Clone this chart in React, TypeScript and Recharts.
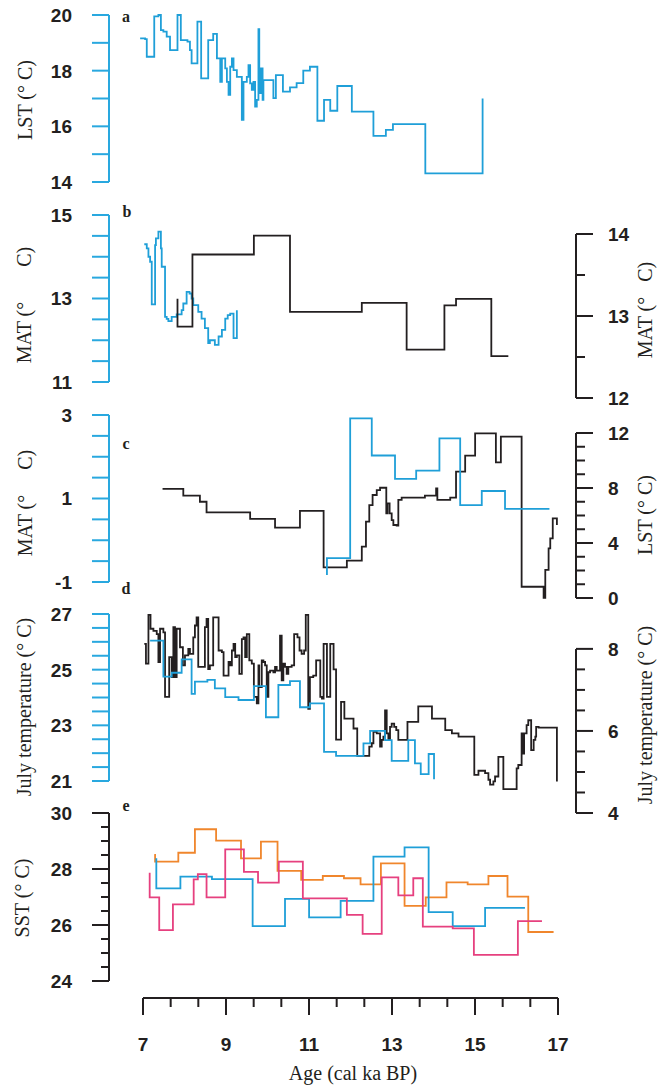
import React from 'react';
import { LineChart, Line, XAxis, YAxis, ReferenceLine } from 'recharts';

const W = 658;
const H = 1088;
const AXIS_BLUE = '#29a8df';
const INK = '#231f20';
const LINE_BLUE = '#1f9fd8';
const ORANGE = '#f0862c';
const PINK = '#e6407f';
const SANS = '"Liberation Sans", Arial, sans-serif';
const SERIF = '"Liberation Serif", "Times New Roman", serif';

// age (cal ka BP) range spanned by the plotting strip between the left and right axes
const AGE_DOMAIN: [number, number] = [6.18, 17.43];

// ---------- bottom age axis ----------
const ageTicks = [7, 7.667, 8.333, 9, 9.667, 10.333, 11, 11.667, 12.333, 13, 13.667, 14.333, 15, 15.667, 16.333, 17];
const ageLabels = [7, 9, 11, 13, 15, 17];

// ---------- panel a : LST (°C) ----------
const lstATicks = [14, 15, 16, 17, 18, 19, 20];
const lstALabels = [14, 16, 18, 20];
const lstA: [number, number][] = [
  [6.93, 19.16], [7.05, 19.13], [7.09, 18.5], [7.27, 19.95], [7.37, 20.0], [7.43, 19.46], [7.49, 19.4],
  [7.57, 19.22], [7.65, 18.74], [7.83, 20.0], [7.91, 19.1], [8.07, 19.04], [8.13, 18.74], [8.17, 18.26],
  [8.31, 19.76], [8.4, 17.72], [8.57, 19.1], [8.69, 19.32], [8.78, 18.44], [8.86, 17.6], [8.9, 18.44],
  [8.98, 18.08], [9.02, 17.6], [9.06, 17.13], [9.1, 18.14], [9.14, 18.44], [9.18, 18.02], [9.26, 17.78],
  [9.38, 16.23], [9.42, 17.6], [9.5, 17.78], [9.54, 18.2], [9.58, 17.54], [9.62, 17.31], [9.66, 17.6],
  [9.7, 16.71], [9.74, 16.95], [9.78, 19.49], [9.8, 17.19], [9.84, 18.08], [9.88, 16.95], [9.9, 17.66],
  [10.14, 17.01], [10.2, 17.84], [10.37, 17.25], [10.54, 17.4], [10.7, 17.55], [10.86, 18.0], [11.02, 18.14],
  [11.2, 16.2], [11.36, 16.95], [11.51, 16.56], [11.68, 17.45], [12.03, 16.53], [12.55, 15.66], [12.85, 15.87],
  [13.02, 16.08], [13.8, 14.31], [15.18, 14.31], [15.18, 17.0],
];

// ---------- panel b : MAT (°C), left blue / right black ----------
const matBLeftTicks = [11, 11.5, 12, 12.5, 13, 13.5, 14, 14.5, 15];
const matBLeftLabels = [11, 13, 15];
const matBRightTicks = [12, 12.5, 13, 13.5, 14];
const matBRightLabels = [12, 13, 14];
const matBBlue: [number, number][] = [
  [7.03, 14.3], [7.09, 14.2], [7.13, 14.0], [7.17, 13.88], [7.21, 12.86], [7.29, 14.28], [7.31, 14.44],
  [7.37, 14.6], [7.43, 14.2], [7.45, 13.76], [7.53, 12.56], [7.57, 12.51], [7.61, 12.46], [7.69, 12.56],
  [7.81, 12.62], [7.93, 12.72], [7.97, 12.88], [8.05, 13.16], [8.12, 13.12], [8.17, 13.0], [8.21, 12.84],
  [8.33, 12.68], [8.41, 12.52], [8.49, 12.29], [8.57, 11.93], [8.61, 12.0], [8.73, 11.89], [8.82, 12.09],
  [8.9, 12.25], [8.98, 12.52], [9.04, 12.6], [9.1, 12.64], [9.18, 12.05], [9.26, 12.72],
];
const matBBlack: [number, number][] = [
  [7.83, 13.21], [7.83, 12.87], [8.19, 13.75], [9.67, 13.98], [10.54, 13.05], [12.27, 13.16],
  [13.35, 12.59], [14.26, 13.13], [14.54, 13.21], [15.39, 12.51], [15.8, 12.51],
];

// ---------- panel c : MAT (°C) left blue / LST (°C) right black ----------
const matCTicks = [-1, -0.5, 0, 0.5, 1, 1.5, 2, 2.5, 3];
const matCLabels = [-1, 1, 3];
const lstCTicks = [0, 1, 2, 3, 4, 5, 6, 7, 8, 9, 10, 11, 12];
const lstCLabels = [0, 4, 8, 12];
const matCBlue: [number, number][] = [
  [11.43, -0.83], [11.43, -0.43], [11.99, 2.92], [12.51, 2.03], [13.07, 1.47], [13.58, 1.67],
  [14.14, 2.44], [14.64, 0.84], [15.16, 1.18], [15.72, 0.75], [16.79, 0.75],
];
const lstCBlack: [number, number][] = [
  [7.47, 7.93], [7.97, 7.44], [8.37, 7.0], [8.53, 6.23], [9.58, 5.75], [10.18, 5.12], [10.78, 6.33],
  [11.35, 2.23], [11.91, 2.72], [12.27, 3.73], [12.37, 5.55], [12.45, 6.76], [12.53, 7.49], [12.63, 7.85],
  [12.71, 8.02], [12.86, 6.16], [12.89, 6.88], [12.94, 6.16], [12.99, 5.67], [13.03, 5.31], [13.11, 5.26],
  [13.15, 7.13], [13.23, 7.3], [13.79, 7.44], [14.06, 7.98], [14.09, 7.13], [14.4, 7.3], [14.54, 9.19],
  [14.76, 10.35], [15.0, 11.98], [15.5, 9.87], [15.62, 11.73], [16.12, 0.82], [16.65, 0.02], [16.69, 2.04],
  [16.77, 3.61], [16.81, 4.34], [16.87, 5.79], [16.97, 5.31],
];

// ---------- panel d : July temperature (°C) left blue / right black ----------
const julDLeftTicks = [21, 21.5, 22, 22.5, 23, 23.5, 24, 24.5, 25, 25.5, 26, 26.5, 27];
const julDLeftLabels = [21, 23, 25, 27];
const julDRightTicks = [4, 4.5, 5, 5.5, 6, 6.5, 7, 7.5, 8];
const julDRightLabels = [4, 6, 8];
const julDBlue: [number, number][] = [
  [7.17, 26.04], [7.49, 24.75], [7.69, 24.89], [7.93, 25.37], [8.17, 24.13], [8.25, 24.57], [8.55, 24.63],
  [8.73, 24.33], [8.98, 24.01], [9.3, 23.91], [9.67, 24.41], [9.96, 23.29], [10.26, 24.45], [10.54, 24.59],
  [10.78, 23.65], [11.02, 23.79], [11.36, 22.05], [11.65, 21.9], [12.31, 22.35], [12.47, 22.8], [12.83, 22.47],
  [12.99, 21.72], [13.39, 22.47], [13.55, 21.63], [13.69, 21.25], [13.88, 21.97], [14.01, 21.06],
];
const julDBlack: [number, number][] = [
  [7.03, 8.12], [7.07, 7.64], [7.13, 8.83], [7.18, 8.49], [7.25, 8.44], [7.33, 8.36], [7.37, 7.68], [7.41, 8.49],
  [7.49, 8.4], [7.53, 6.83], [7.63, 7.8], [7.69, 7.31], [7.73, 8.53], [7.77, 7.31], [7.81, 8.49], [7.89, 8.04],
  [7.96, 7.6], [8.01, 7.84], [8.09, 8.0], [8.13, 7.88], [8.21, 8.28], [8.25, 8.57], [8.29, 8.77], [8.33, 7.56],
  [8.49, 8.53], [8.53, 8.73], [8.57, 7.51], [8.61, 7.6], [8.69, 8.77], [8.82, 7.96], [8.9, 7.92], [8.94, 7.35],
  [9.06, 7.68], [9.1, 7.6], [9.14, 7.96], [9.18, 8.12], [9.22, 7.8], [9.26, 7.84], [9.32, 7.39], [9.38, 8.24],
  [9.42, 8.28], [9.46, 7.8], [9.5, 8.36], [9.56, 7.72], [9.62, 7.64], [9.67, 6.83], [9.74, 6.67], [9.78, 7.6],
  [9.8, 7.07], [9.86, 7.72], [9.9, 7.68], [9.94, 7.6], [9.98, 6.83], [10.02, 7.43], [10.06, 7.47], [10.14, 7.43],
  [10.18, 7.56], [10.22, 7.47], [10.3, 8.32], [10.34, 7.23], [10.38, 7.64], [10.42, 7.56], [10.46, 7.39],
  [10.5, 7.56], [10.58, 7.6], [10.64, 8.36], [10.72, 8.28], [10.77, 7.96], [10.82, 7.88], [10.88, 7.96],
  [10.92, 8.83], [10.98, 6.54], [11.02, 7.31], [11.1, 7.35], [11.17, 7.72], [11.27, 6.83], [11.31, 6.79],
  [11.35, 8.12], [11.43, 6.83], [11.51, 8.12], [11.59, 7.5], [11.65, 5.79], [11.77, 6.71], [11.85, 6.3],
  [12.07, 6.06], [12.16, 5.39], [12.45, 5.62], [12.51, 5.7], [12.55, 5.98], [12.63, 5.94], [12.71, 5.62],
  [12.75, 5.78], [12.79, 5.86], [12.83, 6.5], [12.87, 5.94], [12.91, 5.78], [12.95, 6.1], [12.99, 6.18],
  [13.05, 6.1], [13.1, 6.02], [13.15, 5.78], [13.37, 6.22], [13.63, 6.6], [13.96, 6.3], [14.28, 6.02],
  [14.44, 5.94], [14.6, 5.86], [14.98, 4.93], [15.08, 5.03], [15.24, 4.97], [15.32, 4.81], [15.36, 4.69],
  [15.44, 4.77], [15.48, 4.89], [15.56, 5.37], [15.68, 4.58], [16.0, 5.09], [16.04, 5.17], [16.12, 5.94],
  [16.15, 5.45], [16.18, 5.94], [16.24, 6.14], [16.28, 6.26], [16.35, 5.53], [16.41, 5.78], [16.45, 5.86],
  [16.47, 6.1], [16.53, 6.08], [16.97, 6.08], [16.97, 4.77],
];

// ---------- panel e : SST (°C) ----------
const sstTicks = [24, 24.5, 25, 25.5, 26, 26.5, 27, 27.5, 28, 28.5, 29, 29.5, 30];
const sstLabels = [24, 26, 28, 30];
const sstOrange: [number, number][] = [
  [7.27, 28.5], [7.29, 28.26], [7.85, 28.58], [8.25, 29.42], [8.76, 29.01], [9.36, 28.38], [9.84, 28.98],
  [10.24, 27.93], [10.81, 27.61], [11.33, 27.75], [11.84, 27.67], [12.24, 27.45], [12.73, 28.2], [13.3, 26.68],
  [13.81, 26.99], [14.31, 27.52], [14.82, 27.45], [15.32, 27.75], [15.78, 27.01], [16.28, 25.75], [16.89, 25.75],
];
const sstBlue: [number, number][] = [
  [7.32, 28.38], [7.32, 27.31], [7.9, 27.73], [8.66, 27.64], [9.64, 25.96], [10.42, 26.93], [11.0, 26.27],
  [11.76, 26.86], [12.55, 28.44], [13.3, 28.77], [13.88, 26.46], [14.46, 25.96], [15.24, 26.61], [16.2, 26.61],
];
const sstPink: [number, number][] = [
  [7.16, 27.87], [7.16, 26.99], [7.39, 25.82], [7.72, 26.74], [8.22, 27.63], [8.32, 27.82], [8.53, 26.99],
  [8.98, 28.7], [9.43, 27.9], [9.77, 27.51], [10.27, 28.26], [10.85, 26.95], [11.91, 26.36], [12.29, 25.68],
  [12.75, 27.7], [13.15, 27.06], [13.51, 27.67], [13.74, 25.94], [14.46, 25.88], [14.97, 24.93], [16.03, 26.14],
  [16.61, 26.14],
];

type Series = { data: [number, number][]; color: string };
const toPts = (s: [number, number][]) => s.map(([x, y]) => ({ x, y }));
const has = (list: number[], v: number) => list.some((l) => Math.abs(l - v) < 1e-3);

interface LayerProps {
  side: 'left' | 'right';
  top: number;
  bottom: number;
  domain: [number, number];
  ticks: number[];
  labels: number[];
  axisColor: string;
  minorLen: number;
  axisRange?: [number, number];
  series: Series[];
}

function Layer({ side, top, bottom, domain, ticks, labels, axisColor, minorLen, axisRange, series }: LayerProps) {
  const dir = side === 'left' ? -1 : 1;
  const renderTick = (p: any) => {
    const { x, y, payload } = p;
    const v = payload.value as number;
    const lab = has(labels, v);
    const len = lab ? 17 : minorLen;
    return (
      <g>
        <line x1={x} y1={y} x2={x + dir * len} y2={y} stroke={axisColor} strokeWidth={2} />
        {lab && (
          <text
            x={side === 'left' ? x - 37 : x + 32}
            y={y}
            dy="0.36em"
            textAnchor={side === 'left' ? 'end' : 'start'}
            fontFamily={SANS}
            fontWeight="bold"
            fontSize={19}
            fill={INK}
          >
            {v}
          </text>
        )}
      </g>
    );
  };
  return (
    <div style={{ position: 'absolute', left: 0, top: 0 }}>
      <LineChart
        width={W}
        height={H}
        margin={{ top, bottom: H - bottom, left: side === 'left' ? 49 : 109, right: side === 'left' ? 82 : 22 }}
      >
        <XAxis type="number" dataKey="x" domain={AGE_DOMAIN} hide />
        <YAxis
          type="number"
          dataKey="y"
          orientation={side}
          domain={domain}
          ticks={ticks}
          width={60}
          interval={0}
          tickSize={0}
          tickMargin={0}
          tickLine={false}
          axisLine={axisRange ? false : { stroke: axisColor, strokeWidth: 2 }}
          tick={renderTick}
        />
        {axisRange && (
          <ReferenceLine
            segment={[
              { x: AGE_DOMAIN[side === 'left' ? 0 : 1], y: axisRange[0] },
              { x: AGE_DOMAIN[side === 'left' ? 0 : 1], y: axisRange[1] },
            ]}
            stroke={axisColor}
            strokeWidth={2}
            ifOverflow="visible"
          />
        )}
        {series.map((s, i) => (
          <Line
            key={i}
            data={toPts(s.data)}
            dataKey="y"
            type="stepAfter"
            stroke={s.color}
            strokeWidth={1.8}
            dot={false}
            activeDot={false}
            isAnimationActive={false}
          />
        ))}
      </LineChart>
    </div>
  );
}

function AgeAxis() {
  const renderTick = (p: any) => {
    const { x, y, payload } = p;
    const v = payload.value as number;
    const lab = has(ageLabels, v);
    return (
      <g>
        <line x1={x} y1={y} x2={x} y2={y + (lab ? 17 : 9)} stroke={INK} strokeWidth={2} />
        {lab && (
          <text x={x} y={y + 46} dy="0.36em" textAnchor="middle" fontFamily={SANS} fontWeight="bold" fontSize={19} fill={INK}>
            {Math.round(v)}
          </text>
        )}
      </g>
    );
  };
  // the axis needs a (transparent) carrier series so the library builds its scale
  const carrier = ageTicks.map((x) => ({ x, y: 0 }));
  return (
    <div style={{ position: 'absolute', left: 0, top: 0 }}>
      <LineChart width={W} height={H} margin={{ top: 0, bottom: 60, left: 143, right: 100 }}>
        <XAxis
          type="number"
          dataKey="x"
          domain={[7, 17]}
          ticks={ageTicks}
          height={30}
          interval={0}
          tickSize={0}
          tickMargin={0}
          tickLine={false}
          axisLine={{ stroke: INK, strokeWidth: 2 }}
          tick={renderTick}
        />
        <YAxis hide type="number" domain={[0, 1]} />
        <Line data={carrier} dataKey="y" stroke="none" strokeWidth={0} dot={false} activeDot={false} isAnimationActive={false} />
      </LineChart>
    </div>
  );
}

const NB = '\u00a0';
const titles = [
  { text: 'LST (° C)', x: 25, y: 100 },
  { text: `MAT (°${NB.repeat(7)}C)`, x: 24, y: 305 },
  { text: `MAT (°${NB.repeat(3)}C)`, x: 645, y: 310 },
  { text: `MAT (°${NB.repeat(5)}C)`, x: 25, y: 503 },
  { text: 'LST (° C)', x: 645, y: 515 },
  { text: 'July temperature (° C)', x: 24, y: 707 },
  { text: 'July temperature (° C)', x: 645, y: 715 },
  { text: 'SST (° C)', x: 22, y: 898 },
];
const letters = [
  { t: 'a', x: 126, y: 16 },
  { t: 'b', x: 127, y: 211 },
  { t: 'c', x: 126, y: 443 },
  { t: 'd', x: 126, y: 588 },
  { t: 'e', x: 126, y: 805 },
];

export default function App() {
  return (
    <div style={{ position: 'absolute', left: 0, top: 0, width: W, height: H, background: '#fff', overflow: 'hidden' }}>
      <Layer side="left" top={15} bottom={182} domain={[14, 20]} ticks={lstATicks} labels={lstALabels}
        axisColor={AXIS_BLUE} minorLen={17} series={[{ data: lstA, color: LINE_BLUE }]} />
      <Layer side="left" top={215} bottom={382} domain={[11, 15]} ticks={matBLeftTicks} labels={matBLeftLabels}
        axisColor={AXIS_BLUE} minorLen={17} series={[{ data: matBBlue, color: LINE_BLUE }]} />
      <Layer side="right" top={234} bottom={398} domain={[12, 14]} ticks={matBRightTicks} labels={matBRightLabels}
        axisColor={INK} minorLen={9} series={[{ data: matBBlack, color: INK }]} />
      <Layer side="right" top={433} bottom={598} domain={[0, 12]} ticks={lstCTicks} labels={lstCLabels}
        axisColor={INK} minorLen={9} series={[{ data: lstCBlack, color: INK }]} />
      <Layer side="left" top={415} bottom={582} domain={[-1, 3]} ticks={matCTicks} labels={matCLabels}
        axisColor={AXIS_BLUE} minorLen={17} series={[{ data: matCBlue, color: LINE_BLUE }]} />
      <Layer side="right" top={614} bottom={813} domain={[4, 8.85]} ticks={julDRightTicks} labels={julDRightLabels}
        axisColor={INK} minorLen={9} axisRange={[4, 8]} series={[{ data: julDBlack, color: INK }]} />
      <Layer side="left" top={614} bottom={781} domain={[21, 27]} ticks={julDLeftTicks} labels={julDLeftLabels}
        axisColor={AXIS_BLUE} minorLen={17} series={[{ data: julDBlue, color: LINE_BLUE }]} />
      <Layer side="left" top={813} bottom={981} domain={[24, 30]} ticks={sstTicks} labels={sstLabels}
        axisColor={INK} minorLen={8}
        series={[{ data: sstOrange, color: ORANGE }, { data: sstBlue, color: LINE_BLUE }, { data: sstPink, color: PINK }]} />
      <AgeAxis />
      <svg width={W} height={H} style={{ position: 'absolute', left: 0, top: 0, pointerEvents: 'none' }}>
        {titles.map((t, i) => (
          <text key={i} x={t.x} y={t.y} transform={`rotate(-90 ${t.x} ${t.y})`} textAnchor="middle" dy="0.35em"
            fontFamily={SERIF} fontSize={20} fill={INK}>
            {t.text}
          </text>
        ))}
        {letters.map((l) => (
          <text key={l.t} x={l.x} y={l.y} textAnchor="middle" dy="0.35em" fontFamily={SERIF} fontWeight="bold" fontSize={16} fill={INK}>
            {l.t}
          </text>
        ))}
        <text x={353} y={1073} textAnchor="middle" dy="0.35em" fontFamily={SERIF} fontSize={20} fill={INK}>
          Age (cal ka BP)
        </text>
      </svg>
    </div>
  );
}
